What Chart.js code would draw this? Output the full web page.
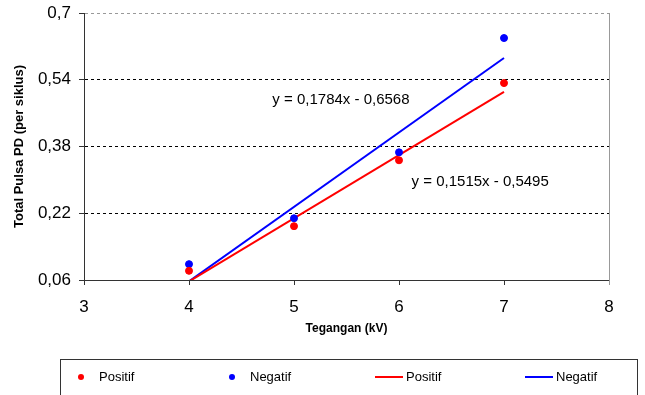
<!DOCTYPE html>
<html>
<head>
<meta charset="utf-8">
<style>
  html, body { margin: 0; background: #fff; }
  #wrap { width: 645px; height: 395px; }
</style>
</head>
<body>
<div id="wrap">
  <canvas id="pdChart"></canvas>
</div>

<script src="https://cdn.jsdelivr.net/npm/chart.js"></script>

<script>
const voltages = [4, 5, 6, 7];
const pulsePositif = [0.082, 0.189, 0.347, 0.532];
const pulseNegatif = [0.098, 0.208, 0.366, 0.640];

// linear trend lines, values at 4 kV and 7 kV
const trendVoltages = [4, 7];
const trendPositif = [0.0565, 0.5110];
const trendNegatif = [0.0568, 0.5920];

const yTicks = [0.06, 0.22, 0.38, 0.54, 0.7];
const eqPositif = 'y = 0,1515x - 0,5495';
const eqNegatif = 'y = 0,1784x - 0,6568';

const FONT = "'Liberation Sans', Arial, sans-serif";
const RED = '#ff0000';
const BLUE = '#0000ff';

const toPoints = (xs, ys) => xs.map((x, i) => ({ x: x, y: ys[i] }));
const comma = v => String(v).replace('.', ',');

// equation labels and the boxed legend under the chart
const annotations = {
  id: 'annotations',
  afterDatasetsDraw(chart) {
    const { ctx, scales: { x, y } } = chart;
    ctx.save();
    ctx.fillStyle = '#000';
    ctx.font = '15px ' + FONT;
    ctx.textBaseline = 'middle';
    ctx.fillText(eqNegatif, x.getPixelForValue(4.794), y.getPixelForValue(0.491));
    ctx.fillText(eqPositif, x.getPixelForValue(6.12), y.getPixelForValue(0.296));

    // right edge of the plot area
    ctx.strokeStyle = '#999';
    ctx.lineWidth = 1;
    ctx.beginPath();
    ctx.moveTo(Math.round(x.right) + 0.5, y.top);
    ctx.lineTo(Math.round(x.right) + 0.5, y.bottom + 5);
    ctx.stroke();

    // legend box
    ctx.strokeStyle = '#333';
    ctx.strokeRect(60.5, 359.5, 577, 60);
    const ly = 377;
    ctx.font = '13px ' + FONT;
    const slots = [81, 232, 375, 525];
    chart.data.datasets.forEach((ds, i) => {
      const lx = slots[i];
      ctx.fillStyle = ds.borderColor;
      ctx.strokeStyle = ds.borderColor;
      if (ds.showLine) {
        ctx.lineWidth = 2;
        ctx.beginPath();
        ctx.moveTo(lx, ly);
        ctx.lineTo(lx + 28, ly);
        ctx.stroke();
        ctx.fillStyle = '#000';
        ctx.fillText(ds.label, lx + 31, ly);
      } else {
        ctx.beginPath();
        ctx.arc(lx, ly, 3, 0, Math.PI * 2);
        ctx.fill();
        ctx.fillStyle = '#000';
        ctx.fillText(ds.label, lx + 18, ly);
      }
    });
    ctx.restore();
  }
};

const config = {
  type: 'scatter',
  data: {
    datasets: [{
      label: 'Positif',
      data: toPoints(voltages, pulsePositif),
      backgroundColor: RED,
      borderColor: RED,
      pointRadius: 3.5,
      showLine: false,
      order: 0
    }, {
      label: 'Negatif',
      data: toPoints(voltages, pulseNegatif),
      backgroundColor: BLUE,
      borderColor: BLUE,
      pointRadius: 3.5,
      showLine: false,
      order: 0
    }, {
      label: 'Positif',
      data: toPoints(trendVoltages, trendPositif),
      borderColor: RED,
      borderWidth: 2,
      pointRadius: 0,
      showLine: true,
      order: 1
    }, {
      label: 'Negatif',
      data: toPoints(trendVoltages, trendNegatif),
      borderColor: BLUE,
      borderWidth: 2,
      pointRadius: 0,
      showLine: true,
      order: 1
    }]
  },
  options: {
    animation: false,
    responsive: true,
    maintainAspectRatio: false,
    layout: { padding: { left: 0, right: 36, top: 13, bottom: 59 } },
    plugins: {
      legend: { display: false },
      tooltip: { enabled: false }
    },
    scales: {
      x: {
        type: 'linear',
        min: 3,
        max: 8,
        ticks: { stepSize: 1, color: '#000', font: { family: FONT, size: 17 }, padding: 12 },
        grid: { drawOnChartArea: false, drawTicks: true, tickLength: 5, color: '#333' },
        border: { color: '#333', width: 1 },
        title: {
          display: true,
          text: 'Tegangan (kV)',
          color: '#000',
          font: { family: FONT, size: 12, weight: 'bold' },
          padding: { top: 0, bottom: 0 }
        },
        afterFit: scale => { scale.height = 56; }
      },
      y: {
        type: 'linear',
        min: 0.06,
        max: 0.7,
        afterBuildTicks: scale => { scale.ticks = yTicks.map(v => ({ value: v })); },
        ticks: {
          color: '#000',
          font: { family: FONT, size: 17 },
          padding: 8,
          callback: v => comma(v)
        },
        grid: {
          drawTicks: true,
          tickLength: 5,
          color: ctx => ctx.tick && ctx.tick.value === 0.7 ? '#999' : '#000',
          tickColor: '#333'
        },
        border: { color: '#333', width: 1, dash: [3, 3] },
        title: {
          display: true,
          text: 'Total Pulsa PD (per siklus)',
          color: '#000',
          font: { family: FONT, size: 13, weight: 'bold' },
          padding: { top: 12, bottom: 0 }
        },
        afterFit: scale => {
          scale.width = 84;
          scale.paddingTop = 0;
          scale.paddingBottom = 0;
        }
      }
    }
  },
  plugins: [annotations]
};

const ctx = document.getElementById('pdChart');
const pdChart = new Chart(ctx, config);
</script>
</body>
</html>
